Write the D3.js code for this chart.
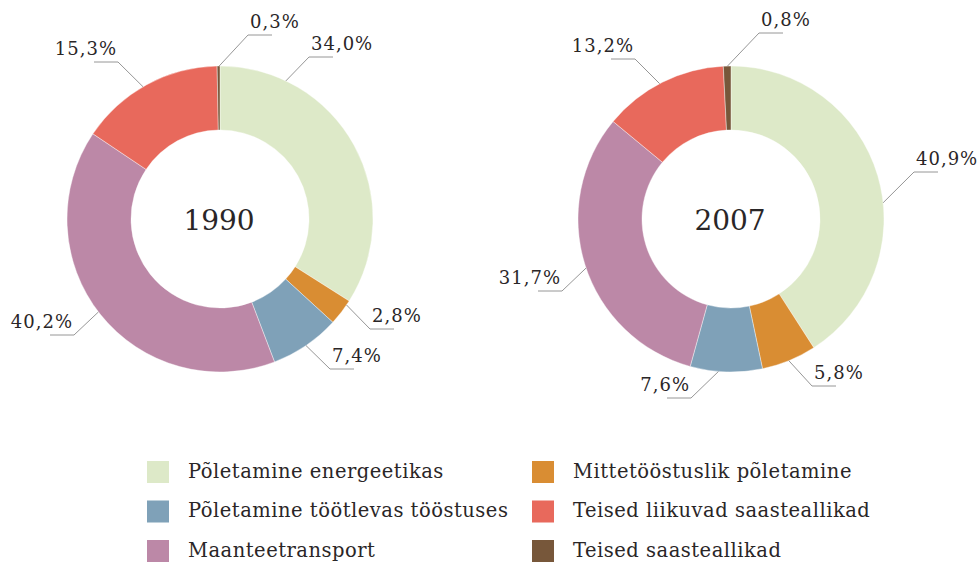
<!DOCTYPE html>
<html>
<head>
<meta charset="utf-8">
<script src="https://cdn.jsdelivr.net/npm/d3@7"></script>
<style>
body{margin:0;background:#fff}
svg text{font-family:"DejaVu Serif",serif;fill:#2a2627}
</style>
</head>
<body>
<div id="chart"></div>
<script>
// data
var categories = ["Põletamine energeetikas","Mittetööstuslik põletamine","Põletamine töötlevas tööstuses",
	"Maanteetransport","Teised liikuvad saasteallikad","Teised saasteallikad"]
var values1990 = [34.0,2.8,7.4,40.2,15.3,0.3]
var values2007 = [40.9,5.8,7.6,31.7,13.2,0.8]
var years = ["1990","2007"]
var colors = ["#dde9c8","#d98d33","#7fa1b8","#bc88a7","#e8695c","#77573a"]

// legend column layout: which category goes where
var legendLeft = [0,2,3]
var legendRight = [1,4,5]

// label layout: angle where the leader line leaves the ring, elbow offset from centre, side
var labels1990 = [
	{a:25.5,dx:89,dy:-162,side:"r"},
	{a:124.2,dx:150,dy:110,side:"r"},
	{a:145.8,dx:110,dy:150,side:"r"},
	{a:232.6,dx:-146,dy:116,side:"l"},
	{a:-30.2,dx:-102,dy:-157,side:"l"},
	{a:-0.3,dx:28,dy:-184,side:"r"}
]
var labels2007 = [
	{a:83.9,dx:183,dy:-47,side:"r"},
	{a:157.8,dx:81,dy:167,side:"r"},
	{a:184.7,dx:-40,dy:179,side:"l"},
	{a:251.3,dx:-169,dy:72,side:"l"},
	{a:-27.8,dx:-96,dy:-160,side:"l"},
	{a:-1.3,dx:28,dy:-186,side:"r"}
]

var width = 980
var height = 562
var outerR = 153
var innerR = 89
var centers = [[220,219],[731,219]]

var svg = d3.select("#chart")
	.append("svg")
	.attr("width",width)
	.attr("height",height)

var pie = d3.pie().sort(null).value(function(d){return d})
var arc = d3.arc().innerRadius(innerR).outerRadius(outerR)

function fmt(v){
	return v.toFixed(1).replace(".",",")+"%"
}

function donut(values,year,center,labelLayout){
	var g = svg.append("g").attr("transform","translate("+center[0]+","+center[1]+")")

	g.selectAll(".slice")
		.data(pie(values))
		.enter()
		.append("path")
		.attr("class","slice")
		.attr("d",arc)
		.attr("fill",function(d,i){return colors[i]})
		.attr("stroke","#fff")
		.attr("stroke-width",0.4)

	g.append("text")
		.text(year)
		.attr("x",-1)
		.attr("y",11)
		.attr("text-anchor","middle")
		.style("font-size","28px")

	var lab = g.selectAll(".lab")
		.data(values)
		.enter()
		.append("g")
		.attr("class","lab")

	lab.append("polyline")
		.attr("points",function(d,i){
			var L = labelLayout[i]
			var rad = L.a*Math.PI/180
			var x0 = outerR*Math.sin(rad)
			var y0 = -outerR*Math.cos(rad)
			var x2 = L.side=="r" ? L.dx+24 : L.dx-24
			return [x0,y0,L.dx,L.dy,x2,L.dy].join(",")
		})
		.attr("fill","none")
		.attr("stroke","#8a8a8a")
		.attr("stroke-width",0.9)

	lab.append("text")
		.text(function(d){return fmt(d)})
		.attr("x",function(d,i){return labelLayout[i].side=="r" ? labelLayout[i].dx+2 : labelLayout[i].dx-1})
		.attr("y",function(d,i){return labelLayout[i].dy-7})
		.attr("text-anchor",function(d,i){return labelLayout[i].side=="r" ? "start" : "end"})
		.style("font-size","18px")
		.style("letter-spacing","1px")
}

donut(values1990,years[0],centers[0],labels1990)
donut(values2007,years[1],centers[1],labels2007)

// legend
function legendColumn(list,x){
	var rows = svg.selectAll(".leg"+x)
		.data(list)
		.enter()
		.append("g")
		.attr("transform",function(d,i){return "translate("+x+","+(461+i*39.5)+")"})
	rows.append("rect")
		.attr("width",22)
		.attr("height",22)
		.attr("fill",function(d){return colors[d]})
	rows.append("text")
		.text(function(d){return categories[d]})
		.attr("x",41)
		.attr("y",16.5)
		.style("font-size","19.5px")
		.style("letter-spacing","0.5px")
}
legendColumn(legendLeft,147)
legendColumn(legendRight,532)
</script>
</body>
</html>
